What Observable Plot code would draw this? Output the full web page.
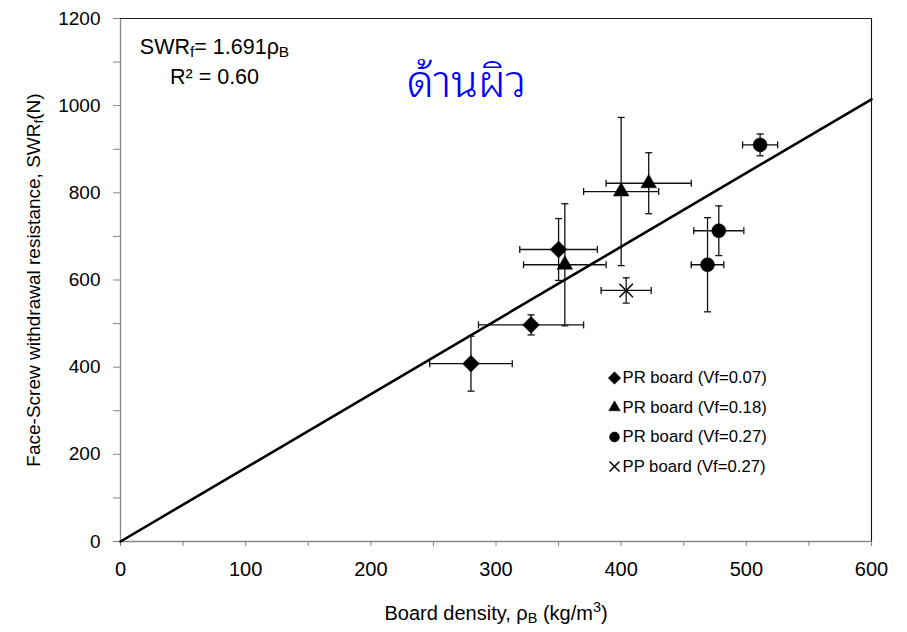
<!DOCTYPE html>
<html><head><meta charset="utf-8">
<script src="https://cdn.jsdelivr.net/npm/d3@7"></script>
<script src="https://cdn.jsdelivr.net/npm/@observablehq/plot@0.6"></script>
<style>
body{margin:0;background:#fff;}
#chart svg{display:block;}
</style></head>
<body><div id="chart"></div>
<script>
// ---- data ----
const seriesNames = ["PR board (Vf=0.07)", "PR board (Vf=0.18)", "PR board (Vf=0.27)", "PP board (Vf=0.27)"];
const group      = [0, 0, 0, 1, 1, 1, 2, 2, 2, 3];
const density    = [280, 328, 350, 355, 400, 422, 511, 478, 469, 404];
const densitySD  = [33, 42, 31, 33, 30, 34, 14, 20, 13, 20];
const swr        = [408, 497, 670, 635, 803, 822, 910, 713, 635, 576];
const swrSD      = [63, 23, 71, 140, 170, 70, 25, 57, 108, 29];
const fitSlope = 1.691;
const fitR2 = "0.60";
const xDomain = [0, 600];
const yDomain = [0, 1200];
const xTicks = [0, 100, 200, 300, 400, 500, 600];
const xMinorTicks = [50, 150, 250, 350, 450, 550];
const yTicks = [0, 200, 400, 600, 800, 1000, 1200];
const yMinorTicks = [100, 300, 500, 700, 900, 1100];
const titleThai = "ด้านผิว";
const xTitle = "Board density, ρB (kg/m3)";
const yTitle = "Face-Screw withdrawal resistance, SWRf(N)";
const eqText = "SWRf= 1.691ρB";
const r2Text = "R² = " + fitR2;

// ---- build ----
const points = density.map((x, i) => ({x, y: swr[i], xe: densitySD[i], ye: swrSD[i], s: group[i]}));
const fitLine = xDomain.map(x => ({x, y: fitSlope * x}));

const seriesSymbol = ["diamond2", "triangle", "circle", "times"];
const seriesR = [7.6, 5.8, 7, 6.2];
const legendR = [5.6, 4.3, 5, 4.6];
const capV = {draw(ctx) { ctx.moveTo(0, -3.5); ctx.lineTo(0, 3.5); }};
const capH = {draw(ctx) { ctx.moveTo(-3.5, 0); ctx.lineTo(3.5, 0); }};

const FONT = "'Liberation Sans', Arial, sans-serif";
const AX = "#868686";

function seriesMark(k, data, opts) {
  const sym = seriesSymbol[k];
  const isLine = sym === "times";
  return Plot.dot(data, {
    ...opts,
    symbol: sym,
    fill: isLine ? "none" : "black",
    stroke: "black",
    strokeWidth: isLine ? 1.5 : 0.5
  });
}

const marks = [
  // axis lines and border
  Plot.ruleY([yDomain[0]], {stroke: AX, strokeWidth: 1.3}),
  Plot.ruleX([xDomain[0]], {stroke: AX, strokeWidth: 1.3}),
  Plot.ruleY([yDomain[1]], {stroke: "#222", strokeWidth: 1.1}),
  Plot.ruleX([xDomain[1]], {stroke: "#111", strokeWidth: 1.1}),
  Plot.axisX({ticks: xTicks, tickSize: 5, tickPadding: 15, fontSize: 20, stroke: AX, label: null, tickFormat: d => String(d)}),
  Plot.axisX({ticks: xMinorTicks, tickSize: 5, stroke: AX, label: null, tickFormat: () => ""}),
  Plot.axisY({ticks: yTicks, tickSize: 7, tickPadding: 13, fontSize: 19, stroke: AX, label: null, tickFormat: d => String(d)}),
  Plot.axisY({ticks: yMinorTicks, tickSize: 7, stroke: AX, label: null, tickFormat: () => ""}),
  // fit line
  Plot.line(fitLine, {x: "x", y: "y", stroke: "black", strokeWidth: 2.6}),
  // error bars
  Plot.ruleY(points, {y: "y", x1: d => d.x - d.xe, x2: d => d.x + d.xe, stroke: "#111", strokeWidth: 1.3}),
  Plot.ruleX(points, {x: "x", y1: d => d.y - d.ye, y2: d => d.y + d.ye, stroke: "#111", strokeWidth: 1.3}),
  Plot.dot(points, {x: d => d.x - d.xe, y: "y", symbol: capV, fill: "none", stroke: "#111", strokeWidth: 1.3}),
  Plot.dot(points, {x: d => d.x + d.xe, y: "y", symbol: capV, fill: "none", stroke: "#111", strokeWidth: 1.3}),
  Plot.dot(points, {x: "x", y: d => d.y - d.ye, symbol: capH, fill: "none", stroke: "#111", strokeWidth: 1.3}),
  Plot.dot(points, {x: "x", y: d => d.y + d.ye, symbol: capH, fill: "none", stroke: "#111", strokeWidth: 1.3}),
  // markers
  ...seriesNames.map((name, k) => seriesMark(k, points.filter(d => d.s === k), {x: "x", y: "y", r: seriesR[k]})),
  // legend (inside the plot area)
  ...seriesNames.flatMap((name, k) => [
    seriesMark(k, [name], {frameAnchor: "top-left", dx: 494, dy: 359.5 + k * 29.5, r: legendR[k]}),
    Plot.text([name], {text: d => d, frameAnchor: "top-left", dx: 502, dy: 359.5 + k * 29.5, textAnchor: "start", lineAnchor: "middle", fontSize: 16.7, fill: "black"})
  ]),
  // annotations
  Plot.text([eqText], {text: d => d, frameAnchor: "top-left", dx: 94, dy: 29, textAnchor: "middle", lineAnchor: "middle", fontSize: 21.5, fill: "black"}),
  Plot.text([r2Text], {text: d => d, frameAnchor: "top-left", dx: 94, dy: 59, textAnchor: "middle", lineAnchor: "middle", fontSize: 21.5, fill: "black"}),
  Plot.text([titleThai], {text: d => d, frameAnchor: "top-left", dx: 346, dy: 64, textAnchor: "middle", lineAnchor: "middle", fontSize: 44, fontWeight: 300, fill: "#0000ff",
    fontFamily: "'Noto Sans Thai Looped', 'Noto Serif Thai', Loma, Garuda, Norasi, Kinnari, Laksaman, 'Noto Sans Thai', 'Tlwg Typo', 'DejaVu Sans', sans-serif"}),
  // axis titles
  Plot.text([xTitle], {text: d => d, frameAnchor: "bottom", dy: 72, textAnchor: "middle", lineAnchor: "middle", fontSize: 20, fill: "black"}),
  Plot.text([yTitle], {text: d => d, frameAnchor: "left", dx: -87, rotate: -90, textAnchor: "middle", lineAnchor: "middle", fontSize: 19, fill: "black"})
];

const chart = Plot.plot({
  width: 907,
  height: 632,
  marginLeft: 120,
  marginRight: 36,
  marginTop: 18,
  marginBottom: 91,
  x: {domain: xDomain, nice: false},
  y: {domain: yDomain, nice: false},
  style: {fontFamily: FONT, fontSize: "18px", background: "#fff", color: "black", overflow: "visible"},
  marks
});

// sub/superscripts for real text
const rich = {
  [eqText]: [["SWR"], ["f", "-22%"], ["= 1.691"], ["ρ"], ["B", "-22%"]],
  [xTitle]: [["Board density, ρ"], ["B", "-22%"], [" (kg/m"], ["3", "super"], [")"]],
  [yTitle]: [["Face-Screw withdrawal resistance, SWR"], ["f", "-22%"], ["(N)"]]
};
const NS = "http://www.w3.org/2000/svg";
chart.querySelectorAll("text").forEach(el => {
  const parts = rich[el.textContent];
  if (!parts) return;
  el.textContent = "";
  for (const [t, shift] of parts) {
    const ts = document.createElementNS(NS, "tspan");
    ts.textContent = t;
    if (shift) {
      ts.setAttribute("baseline-shift", shift);
      ts.setAttribute("font-size", "72%");
    }
    el.appendChild(ts);
  }
});

document.getElementById("chart").appendChild(chart);
</script>
</body></html>
